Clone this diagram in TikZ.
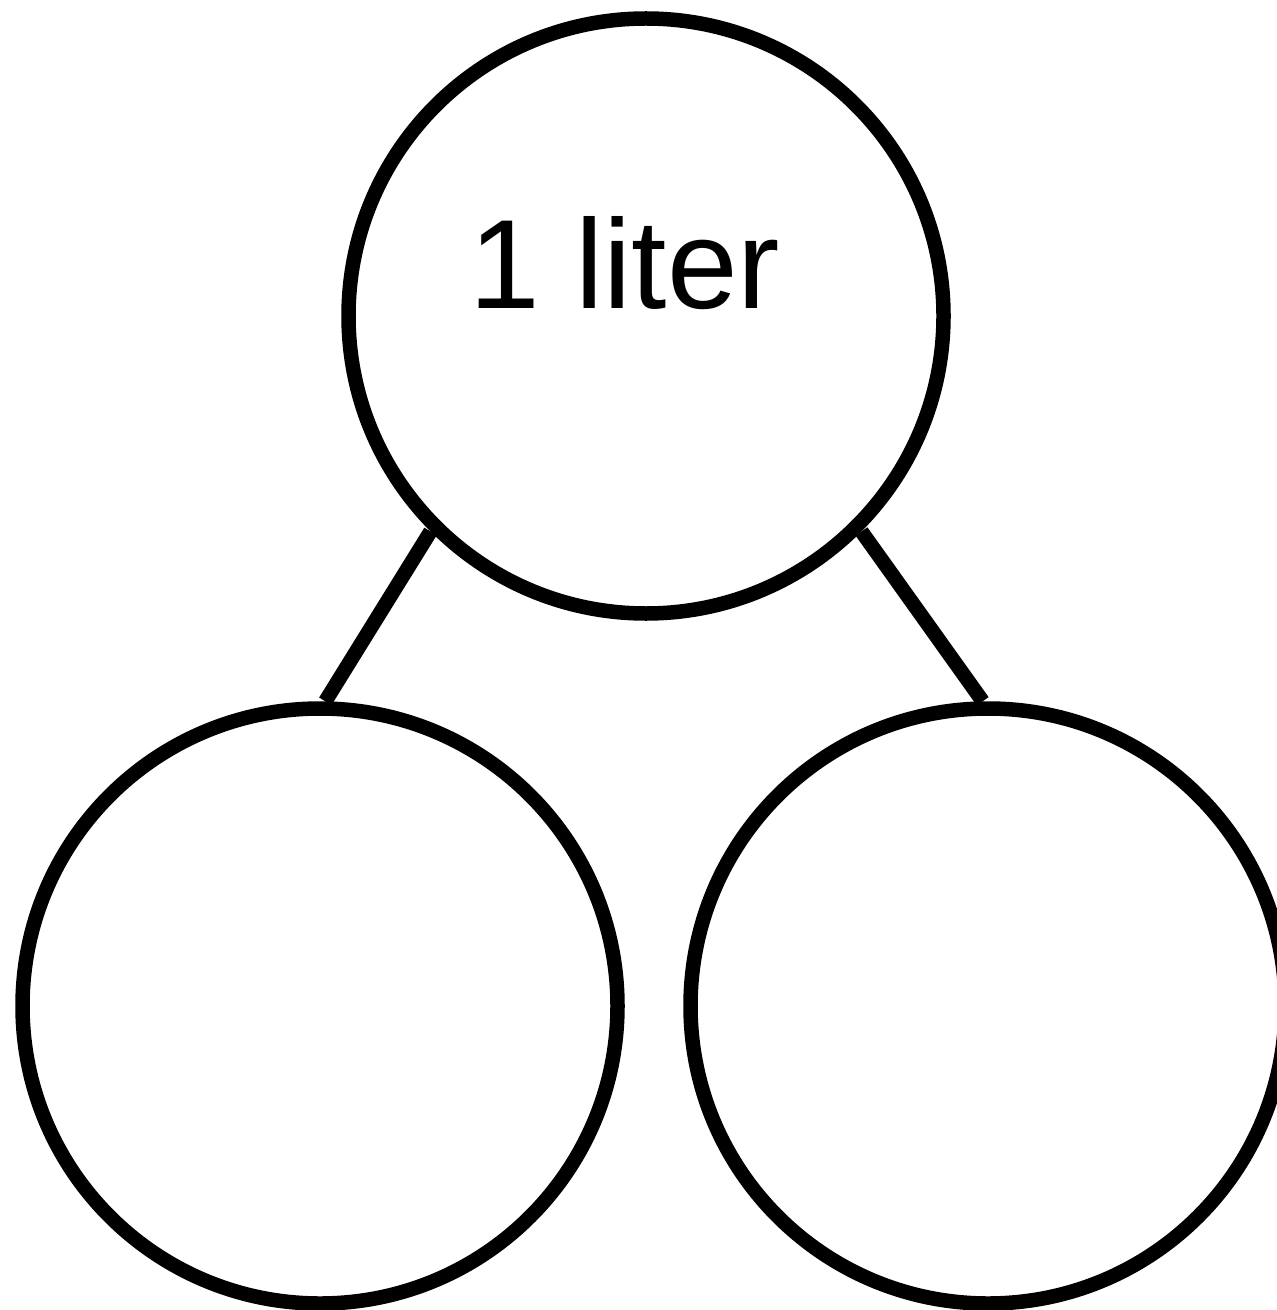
\documentclass[tikz,border=0pt]{standalone}
\usepackage{fontspec}
\setmainfont{Liberation Sans}
\begin{document}
\begin{tikzpicture}[x=0.5pt,y=-0.5pt,
  ring/.style={circle,draw=black,line width=7.25pt,minimum size=297.5pt,inner sep=0pt},
  link/.style={draw=black,line width=7.25pt}]
\clip (0,0) rectangle (1277,1310);
\useasboundingbox (0,0) rectangle (1277,1310);
\node[ring] (top) at (646,316) {};
\node[ring] (bl) at (320,1006) {};
\node[ring] (br) at (988,1006) {};
\node[anchor=base,inner sep=0pt,font=\fontsize{63.5pt}{68pt}\selectfont] (lbl) at (625,308) {1 liter};
\draw[link] (top.225) -- (bl.89);
\draw[link] (top.-45) -- (br.91);
\end{tikzpicture}
\end{document}
